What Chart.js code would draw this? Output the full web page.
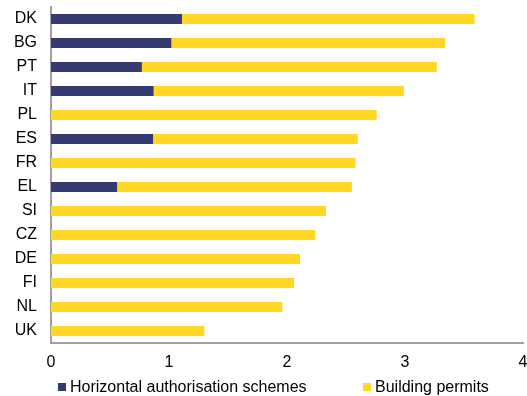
<!DOCTYPE html>
<html>
<head>
<meta charset="utf-8">
<style>
  html, body { margin: 0; padding: 0; background: #ffffff; }
  #wrap { width: 527px; height: 396px; position: relative; }
</style>
<script src="https://cdn.jsdelivr.net/npm/chart.js@4/dist/chart.umd.min.js"></script>
</head>
<body>
<div id="wrap"><canvas id="chart" width="527" height="396"></canvas></div>
<script>
// Member states, top to bottom
const categories = ['DK', 'BG', 'PT', 'IT', 'PL', 'ES', 'FR', 'EL', 'SI', 'CZ', 'DE', 'FI', 'NL', 'UK'];
// Horizontal authorisation schemes (first segment of each bar)
const horizontalSchemes = [1.11, 1.02, 0.77, 0.87, 0, 0.865, 0, 0.56, 0, 0, 0, 0, 0, 0];
// Building permits (second segment)
const buildingPermits = [2.48, 2.32, 2.50, 2.12, 2.76, 1.735, 2.58, 1.99, 2.33, 2.24, 2.11, 2.06, 1.96, 1.30];
const xTicks = [0, 1, 2, 3, 4];
const seriesNames = ['Horizontal authorisation schemes', 'Building permits'];

const FONT = 'Liberation Sans, Arial, Helvetica, sans-serif';
const FONT_SIZE = 16;
const NAVY = '#353b70';
const YELLOW = '#ffd724';

// Legend drawn under the axis: square marker followed by the series name
const bottomLegend = {
  id: 'bottomLegend',
  afterDraw(chart) {
    const ctx = chart.ctx;
    const y = 387;
    const xs = [58, 363];
    ctx.save();
    ctx.font = FONT_SIZE + 'px ' + FONT;
    ctx.textBaseline = 'middle';
    ctx.textAlign = 'left';
    chart.data.datasets.forEach((ds, i) => {
      ctx.fillStyle = ds.backgroundColor;
      ctx.fillRect(xs[i], y - 4, 8, 8);
      ctx.fillStyle = '#000000';
      ctx.fillText(ds.label, xs[i] + 12, y + 0.5);
    });
    ctx.restore();
  }
};

new Chart(document.getElementById('chart'), {
  type: 'bar',
  data: {
    labels: categories,
    datasets: [
      { label: seriesNames[0], data: horizontalSchemes, backgroundColor: NAVY, borderWidth: 0 },
      { label: seriesNames[1], data: buildingPermits, backgroundColor: YELLOW, borderWidth: 0 }
    ]
  },
  options: {
    indexAxis: 'y',
    responsive: false,
    animation: false,
    devicePixelRatio: 1,
    layout: { padding: { top: 7, right: 4, bottom: 25, left: 0 } },
    datasets: { bar: { categoryPercentage: 1, barPercentage: 0.42 } },
    plugins: { legend: { display: false }, tooltip: { enabled: false } },
    scales: {
      x: {
        stacked: true,
        min: 0,
        max: 4,
        afterBuildTicks(scale) { scale.ticks = xTicks.map(v => ({ value: v })); },
        afterFit(scale) { scale.height = 28; scale.paddingLeft = 0; scale.paddingRight = 0; },
        grid: { display: false, drawTicks: false },
        border: { display: true, color: '#a0a0a0', width: 2 },
        ticks: { color: '#000000', padding: 10, maxRotation: 0, font: { family: FONT, size: FONT_SIZE } }
      },
      y: {
        stacked: true,
        afterFit(scale) { scale.width = 51; scale.paddingTop = 0; scale.paddingBottom = 0; },
        grid: { display: false, drawTicks: false },
        border: { display: true, color: '#a0a0a0', width: 2 },
        ticks: { color: '#000000', padding: 14, font: { family: FONT, size: FONT_SIZE } }
      }
    }
  },
  plugins: [bottomLegend]
});
</script>
</body>
</html>
